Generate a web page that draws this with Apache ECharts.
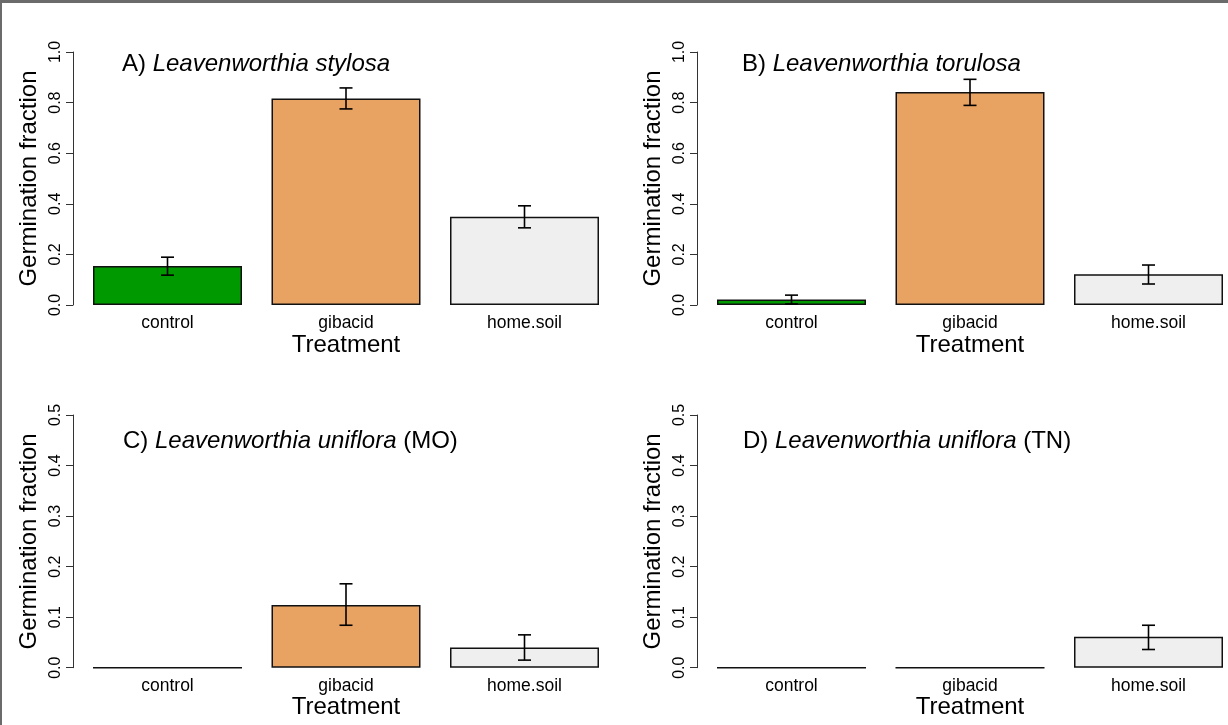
<!DOCTYPE html>
<html>
<head>
<meta charset="utf-8">
<script src="https://cdn.jsdelivr.net/npm/echarts@6/dist/echarts.min.js"></script>
<style>html,body{margin:0;padding:0;background:#fff}#c{width:1228px;height:725px}</style>
</head>
<body>
<div id="c"></div>
<script>
// ---- data ----
const categories = ['control', 'gibacid', 'home.soil'];
const barColors = ['#009900', '#E8A262', '#EFEFEF'];

const titlesPrefix = ['A) ', 'B) ', 'C) ', 'D) '];
const titlesSpecies = ['Leavenworthia stylosa', 'Leavenworthia torulosa', 'Leavenworthia uniflora', 'Leavenworthia uniflora'];
const titlesSuffix = ['', '', ' (MO)', ' (TN)'];

const meanA = [0.154, 0.816, 0.349];
const lowA  = [0.118, 0.775, 0.305];
const highA = [0.189, 0.858, 0.392];

const meanB = [0.022, 0.842, 0.122];
const lowB  = [0.004, 0.789, 0.083];
const highB = [0.039, 0.892, 0.158];

const meanC = [0, 0.124, 0.040];
const lowC  = [null, 0.084, 0.015];
const highC = [null, 0.166, 0.065];

const meanD = [0, 0, 0.061];
const lowD  = [null, null, 0.036];
const highD = [null, null, 0.084];

const yMaxTop = 1.0, yIntTop = 0.2;
const yMaxBottom = 0.5, yIntBottom = 0.1;

const yName = 'Germination fraction';
const xName = 'Treatment';

// ---- layout ----
const FONT = '"Liberation Sans", Arial, sans-serif';
const panels = [
  {mean: meanA, low: lowA, high: highA, max: yMaxTop, interval: yIntTop, grid: {left: 78.25, top: 52, width: 535.5, height: 253}, tx: 122, ty: 52},
  {mean: meanB, low: lowB, high: highB, max: yMaxTop, interval: yIntTop, grid: {left: 702.25, top: 52, width: 535.5, height: 253}, tx: 742, ty: 52},
  {mean: meanC, low: lowC, high: highC, max: yMaxBottom, interval: yIntBottom, grid: {left: 78.25, top: 415, width: 535.5, height: 252.7}, tx: 123, ty: 429},
  {mean: meanD, low: lowD, high: highD, max: yMaxBottom, interval: yIntBottom, grid: {left: 702.25, top: 415, width: 535.5, height: 252.7}, tx: 743, ty: 429}
];

const option = {
  animation: false,
  backgroundColor: '#fff',
  title: [], grid: [], xAxis: [], yAxis: [], series: [],
  graphic: [
    {type: 'rect', shape: {x: 0, y: 0, width: 1228, height: 3}, style: {fill: '#6b6b6b'}, silent: true},
    {type: 'rect', shape: {x: 0, y: 0, width: 2, height: 725}, style: {fill: '#6b6b6b'}, silent: true}
  ]
};

panels.forEach((p, i) => {
  option.grid.push(Object.assign({containLabel: false, outerBoundsMode: 'none'}, p.grid));
  option.title.push({
    left: p.tx, top: p.ty, padding: 0,
    text: '{n|' + titlesPrefix[i] + '}{i|' + titlesSpecies[i] + '}{n|' + titlesSuffix[i] + '}',
    textStyle: {
      rich: {
        n: {fontFamily: FONT, fontSize: 24, color: '#000', fontWeight: 'normal'},
        i: {fontFamily: FONT, fontSize: 24, color: '#000', fontStyle: 'italic', fontWeight: 'normal'}
      }
    }
  });
  option.xAxis.push({
    type: 'category', gridIndex: i, data: categories, boundaryGap: true,
    axisLine: {show: false}, axisTick: {show: false}, splitLine: {show: false},
    axisLabel: {fontFamily: FONT, fontSize: 17.5, color: '#000', margin: 9, interval: 0},
    name: xName, nameLocation: 'middle', nameGap: 27,
    nameTextStyle: {fontFamily: FONT, fontSize: 24, color: '#000'}
  });
  option.yAxis.push({
    type: 'value', gridIndex: i, min: 0, max: p.max, interval: p.interval,
    offset: 5.25,
    axisLine: {show: true, lineStyle: {color: '#333', width: 1}},
    axisTick: {show: true, length: 7, lineStyle: {color: '#333', width: 1}},
    splitLine: {show: false},
    axisLabel: {fontFamily: FONT, fontSize: 16, color: '#000', rotate: 90, margin: 9,
      formatter: v => v.toFixed(1)},
    name: yName, nameLocation: 'middle', nameRotate: 90, nameGap: 32,
    nameTextStyle: {fontFamily: FONT, fontSize: 24, color: '#000'}
  });
  option.series.push({
    type: 'bar', xAxisIndex: i, yAxisIndex: i, barWidth: 149,
    data: p.mean.map((v, k) => ({value: v, itemStyle: {color: barColors[k]}})),
    itemStyle: {borderColor: '#111', borderWidth: 1.5},
    emphasis: {disabled: true}, silent: true
  });
  const err = [];
  p.mean.forEach((v, k) => { if (p.low[k] !== null) err.push([k, p.low[k], p.high[k]]); });
  option.series.push({
    type: 'custom', xAxisIndex: i, yAxisIndex: i, data: err, silent: true, z: 5,
    renderItem: (params, api) => {
      const lo = api.coord([api.value(0), api.value(1)]);
      const hi = api.coord([api.value(0), api.value(2)]);
      const hw = 6.5;
      const st = {stroke: '#000', lineWidth: 1.6, fill: null};
      return {type: 'group', children: [
        {type: 'line', shape: {x1: lo[0], y1: lo[1], x2: hi[0], y2: hi[1]}, style: st},
        {type: 'line', shape: {x1: lo[0] - hw, y1: lo[1], x2: lo[0] + hw, y2: lo[1]}, style: st},
        {type: 'line', shape: {x1: hi[0] - hw, y1: hi[1], x2: hi[0] + hw, y2: hi[1]}, style: st}
      ]};
    }
  });
});

const chart = echarts.init(document.getElementById('c'), null, {renderer: 'canvas'});
chart.setOption(option);
</script>
</body>
</html>
